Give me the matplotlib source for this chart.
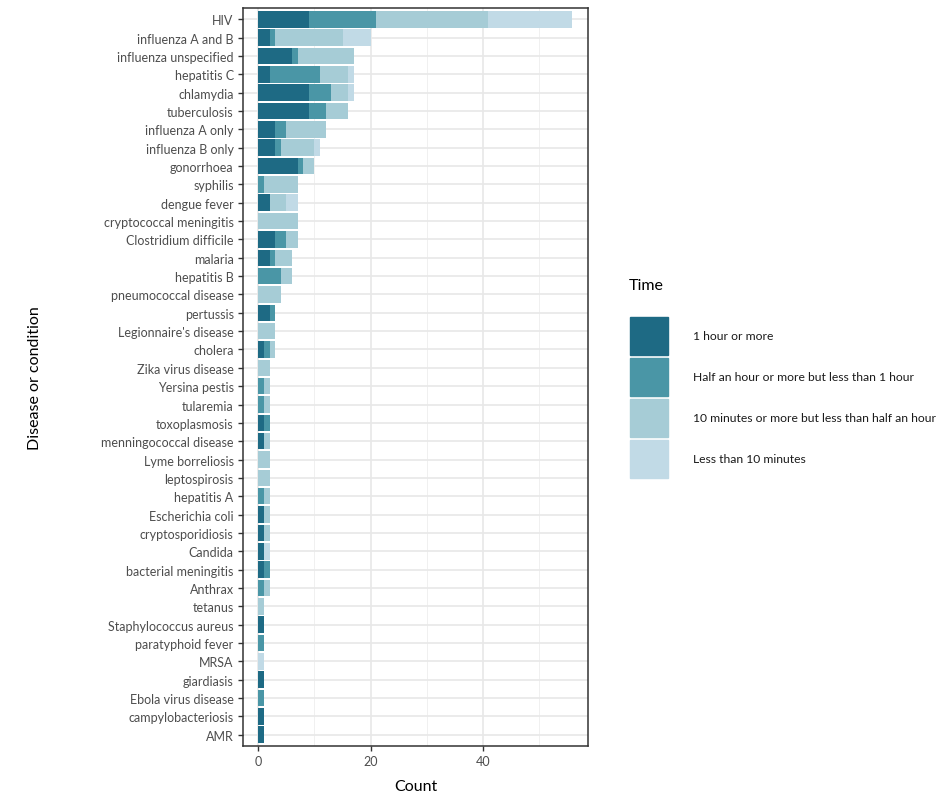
import numpy as np
import matplotlib.pyplot as plt
from matplotlib.patches import Rectangle

plt.rcParams['font.family'] = ['Lato', 'DejaVu Sans']

# categories from top to bottom
diseases = ['HIV', 'influenza A and B', 'influenza unspecified', 'hepatitis C', 'chlamydia',
            'tuberculosis', 'influenza A only', 'influenza B only', 'gonorrhoea', 'syphilis',
            'dengue fever', 'cryptococcal meningitis', 'Clostridium difficile', 'malaria',
            'hepatitis B', 'pneumococcal disease', 'pertussis', "Legionnaire's disease",
            'cholera', 'Zika virus disease', 'Yersina pestis', 'tularemia', 'toxoplasmosis',
            'menningococcal disease', 'Lyme borreliosis', 'leptospirosis', 'hepatitis A',
            'Escherichia coli', 'cryptosporidiosis', 'Candida', 'bacterial meningitis',
            'Anthrax', 'tetanus', 'Staphylococcus aureus', 'paratyphoid fever', 'MRSA',
            'giardiasis', 'Ebola virus disease', 'campylobacteriosis', 'AMR']

hour_plus = [9, 2, 6, 2, 9, 9, 3, 3, 7, 0, 2, 0, 3, 2, 0, 0, 2, 0, 1, 0,
             0, 0, 1, 1, 0, 0, 0, 1, 1, 1, 1, 0, 0, 1, 0, 0, 1, 0, 1, 1]
half_hour = [12, 1, 1, 9, 4, 3, 2, 1, 1, 1, 0, 0, 2, 1, 4, 0, 1, 0, 1, 0,
             1, 1, 1, 0, 0, 0, 1, 0, 0, 0, 1, 1, 0, 0, 1, 0, 0, 1, 0, 0]
ten_min = [20, 12, 10, 5, 3, 4, 7, 6, 2, 6, 3, 7, 2, 3, 2, 4, 0, 3, 1, 2,
           1, 1, 0, 1, 2, 2, 1, 1, 1, 0, 0, 1, 1, 0, 0, 0, 0, 0, 0, 0]
under_ten = [15, 5, 0, 1, 1, 0, 0, 1, 0, 0, 2, 0, 0, 0, 0, 0, 0, 0, 0, 0,
             0, 0, 0, 0, 0, 0, 0, 0, 0, 1, 0, 0, 0, 0, 0, 1, 0, 0, 0, 0]

labels = ['1 hour or more', 'Half an hour or more but less than 1 hour',
          '10 minutes or more but less than half an hour', 'Less than 10 minutes']
colors = ['#1e6a84', '#4a96a6', '#a6ccd6', '#c1dae6']

fig = plt.figure(figsize=(9.5, 8.04), dpi=100)
ax = fig.add_axes([0.2555, 0.0713, 0.3635, 0.9171])

y = np.arange(len(diseases))
left = np.zeros(len(diseases))
for vals, c in zip([hour_plus, half_hour, ten_min, under_ten], colors):
    vals = np.array(vals)
    ax.barh(y, vals, left=left, height=0.9, color=c, zorder=3)
    left += vals

ax.set_xlim(-2.8, 58.8)
ax.set_ylim(len(diseases) - 0.4, -0.6)
ax.set_yticks(y)
ax.set_yticklabels(diseases)
ax.set_xticks([0, 20, 40])
ax.set_xticks([10, 30, 50], minor=True)
ax.grid(True, which='major', color='#e8e8e8', linewidth=1.2, zorder=0)
ax.grid(True, which='minor', axis='x', color='#f0f0f0', linewidth=0.7, zorder=0)
ax.tick_params(which='minor', length=0)
ax.tick_params(which='major', length=3.5, width=1, color='#333333',
               labelsize=9, labelcolor='#4d4d4d', pad=3)
for s in ax.spines.values():
    s.set_color('#333333')
    s.set_linewidth(1.1)

ax.set_xlabel('Count', fontsize=11.5, labelpad=9)
ax.set_ylabel('Disease or condition', fontsize=11.5, labelpad=0)
ax.yaxis.set_label_coords(-0.58, 0.5)

# legend drawn in pixel space
lax = fig.add_axes([0, 0, 1, 1], facecolor='none')
lax.set_xlim(0, 950)
lax.set_ylim(804, 0)
lax.axis('off')
lax.text(629, 286, 'Time', fontsize=11.5, va='center', ha='left')
key_tops = [318, 358.5, 399.5, 441]
for top, c, lab in zip(key_tops, colors, labels):
    lax.add_patch(Rectangle((630, top), 38, 38, color=c))
    lax.text(693, top + 19, lab, fontsize=8.7, va='center', ha='left', color='#1a1a1a')

fig.savefig('out.png', dpi=100)
